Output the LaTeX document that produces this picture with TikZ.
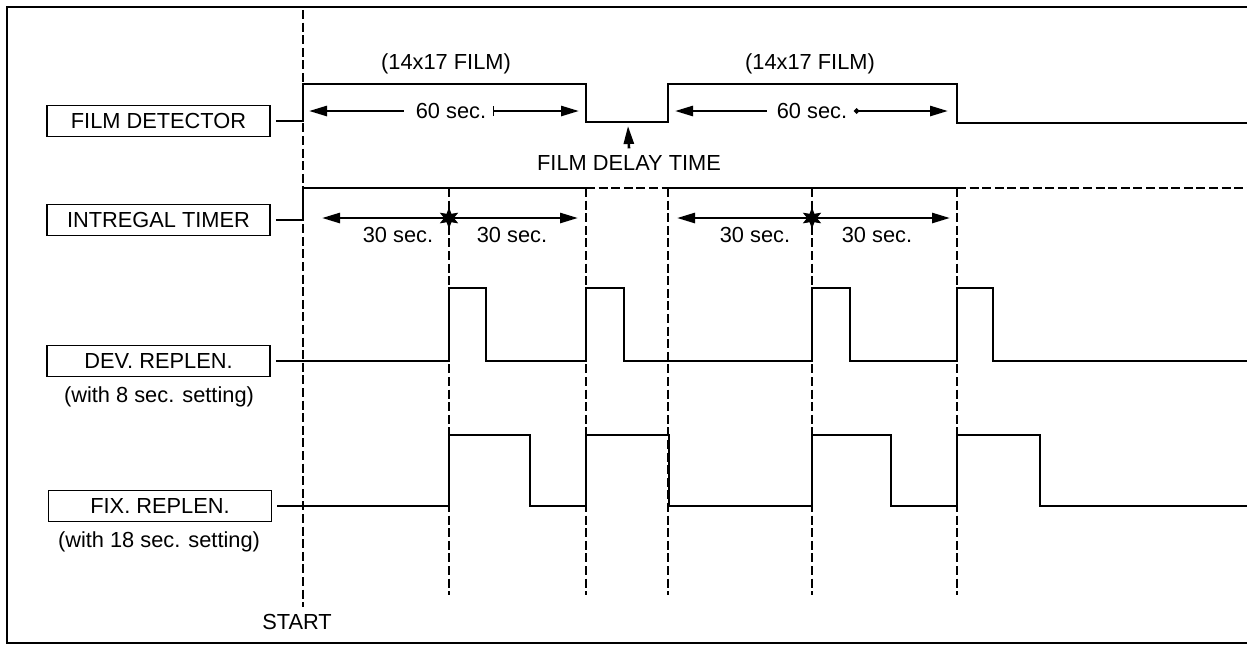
\documentclass[tikz,border=0pt]{standalone}
\usepackage{fontspec}
\setmainfont{Liberation Sans}
\usetikzlibrary{arrows.meta, shapes.geometric}
\newcommand{\sig}{\fontsize{10.9}{12}\selectfont}

\begin{document}
\begin{tikzpicture}[
  x=0.5pt, y=-0.5pt,
  font=\sig,
  >={Triangle[length=9pt, width=5pt]},
  box/.style={draw, line width=0.75pt, minimum width=111.5pt, minimum height=15.5pt,
              inner sep=0pt},
  wave/.style={line width=1pt},
  guide/.style={line width=1.1pt, dash pattern=on 4.5pt off 1.8pt},
  dim/.style={->, line width=1.3pt},
  midstar/.style={star, star points=6, star point ratio=2.2, fill, draw,
                  inner sep=0pt, minimum size=9.5pt},
]
\useasboundingbox (0,0) rectangle (1247,644);

% ---------------------------- the frame -----------------------------------
\draw[line width=0.9pt] (1247,7) -- (7,7) -- (7,643) -- (1247,643);

% ---------------------------- the signals ---------------------------------
\node[box] (fd)  at (158.5,121) {FILM DETECTOR};
\node[box] (it)  at (158.5,220) {INTREGAL TIMER};
\node[box] (dev) at (158.5,361) {DEV. REPLEN.};
\node (devset) at (159,397) {(with 8 sec. setting)};
\node[box] (fix) at (160,506) {FIX. REPLEN.};
\node (fixset) at (159,542) {(with 18 sec. setting)};

% ---------------------------- start and the edges -------------------------
\node (start) at (297,622) {START};
\coordinate (top0) at (303,10);
\draw[guide] (top0) -- (start.north -| top0);

\draw[guide] (449,188) -- (449,595);
\draw[guide] (586,188) -- (586,595);
\draw[guide] (668,188) -- (668,595);
\draw[guide] (812,188) -- (812,595);
\draw[guide] (957,188) -- (957,595);

% ---------------------------- waveforms -----------------------------------
\draw[wave] ([xshift=2.5pt]fd.east) -- (303,121) |- (586,84) |- (668,122)
  |- (957,84) |- (1247,123);

\draw[wave] ([xshift=2.5pt]it.east) -- (303,220) |- (586,188);
\draw[guide] (586,188) -- (668,188);
\draw[wave] (668,188) -- (957,188);
\draw[guide] (957,188) -- (1247,188);

\draw[wave] ([xshift=2.5pt]dev.east) -- (449,361) |- (486,288) |- (586,361)
  |- (624,288) |- (812,361) |- (850,288) |- (957,361) |- (993,288) |- (1247,361);

\draw[wave] ([xshift=2.5pt]fix.east) -- (449,506) |- (530,435) |- (586,506)
  |- (669,435) |- (812,506) |- (891,435) |- (957,506) |- (1040,435) |- (1247,506);

% ---------------------------- film detector times -------------------------
\node (filmA) at (446,64) {(14x17 FILM)};
\node (filmB) at (810,64) {(14x17 FILM)};

\node (sixtyA) at (451,111) {60 sec.};
\coordinate (fdRiseA) at (309,111);
\coordinate (fdFallA) at (579,111);
\draw[dim] ([xshift=-2.5pt]sixtyA.west) -- (fdRiseA);
\draw[dim, {Bar[width=5pt, line width=0.6pt]}->] (sixtyA.east) -- (fdFallA);

\node (sixtyB) at (812,111) {60 sec.};
\coordinate (fdRiseB) at (675,111);
\coordinate (fdFallB) at (948,111);
\draw[dim] ([xshift=-1.5pt]sixtyB.west) -- (fdRiseB);
\draw[dim, {Circle[length=2.5pt]}->] (sixtyB.east) -- (fdFallB);

\node (delay) at (629,163) {FILM DELAY TIME};
\coordinate (fdLow) at (628,126);
\draw[dim] (delay.north) -- (fdLow);

% ---------------------------- timer halves --------------------------------
\node[midstar] (half1) at (449,218) {};
\node[midstar] (half2) at (812,218) {};

\coordinate (itRiseA) at (322,218);
\coordinate (itFallA) at (578,218);
\coordinate (itRiseB) at (677,218);
\coordinate (itFallB) at (950,218);
\draw[dim] (half1) -- (itRiseA);
\draw[dim] (half1) -- (itFallA);
\draw[dim] (half2) -- (itRiseB);
\draw[dim] (half2) -- (itFallB);

\node (thirtyA) at (398,235) {30 sec.};
\node (thirtyB) at (512,235) {30 sec.};
\node (thirtyC) at (755,235) {30 sec.};
\node (thirtyD) at (877,235) {30 sec.};

\end{tikzpicture}
\end{document}
